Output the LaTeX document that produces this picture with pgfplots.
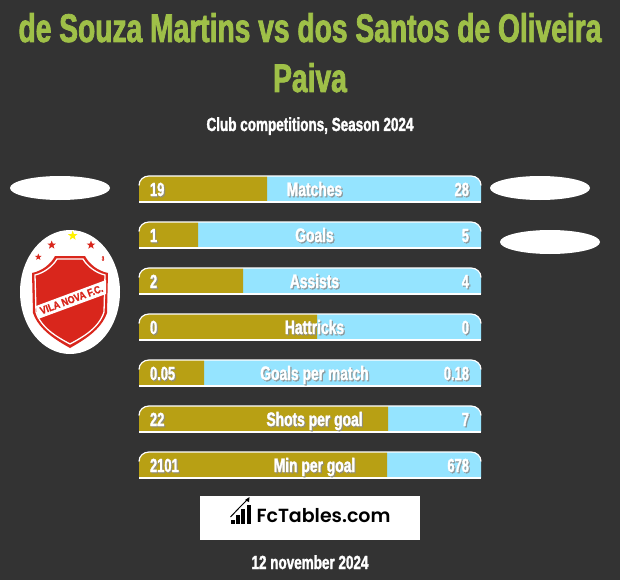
\documentclass[border=0pt]{standalone}
\usepackage{pgfplots}
\pgfplotsset{compat=1.18}
\usepackage{pgfplotstable}
\usetikzlibrary{shapes.geometric}
\usepackage{fontspec}
\setmainfont{Liberation Sans}
\newfontfamily\cond[FakeStretch=0.71,FakeBold=1.6]{Liberation Sans Bold}
\newfontfamily\condt[FakeStretch=0.705,FakeBold=1.8]{Liberation Sans Bold}
\newfontfamily\condn[FakeStretch=0.68,FakeBold=1.5]{Liberation Sans Bold}
\newfontfamily\badgef[FakeStretch=0.85,FakeBold=1.2]{Liberation Sans Bold}
\newfontfamily\logof{Poppins SemiBold}
\definecolor{bg}{HTML}{333333}
\definecolor{titlec}{HTML}{9FC048}
\definecolor{goldc}{HTML}{B8A014}
\definecolor{bluec}{HTML}{95E4FF}
\definecolor{redc}{HTML}{D9261C}
% row centre (px), left value, right value, end of the left part (px from the bar start)
\pgfplotstableread{
y left right goldend
189 19 28 128
235 1 5 59
281 2 4 104
327 0 0 178
373 0.05 0.18 65
419 22 7 249
465 2101 678 248
}\bars
\newcommand{\rowdeco}[4]{% y centre, left, label, right
 \fill[bg] (axis cs:-1,#1-13.5) -- (axis cs:10,#1-13.5) .. controls (axis cs:4.5,#1-13.5) and (axis cs:0,#1-9) .. (axis cs:0,#1-3.5) -- (axis cs:-1,#1-3.5) -- cycle;
 \fill[bg] (axis cs:343,#1-13.5) -- (axis cs:332,#1-13.5) .. controls (axis cs:337.5,#1-13.5) and (axis cs:342,#1-9) .. (axis cs:342,#1-3.5) -- (axis cs:343,#1-3.5) -- cycle;
 \draw[white,line width=1.2pt] (axis cs:0,#1-3.5) .. controls (axis cs:0,#1-9) and (axis cs:4.5,#1-13) .. (axis cs:10,#1-13) -- (axis cs:332,#1-13) .. controls (axis cs:337.5,#1-13) and (axis cs:342,#1-9) .. (axis cs:342,#1-3.5);
 \draw[white,line width=1.2pt] (axis cs:0,#1+13) -- (axis cs:342,#1+13);
 \node[text=black!45,opacity=.8,font=\condn\fontsize{19}{19}\selectfont,anchor=base west] at (axis cs:12.2,#1+8.2) {#2};
 \node[text=white,font=\condn\fontsize{19}{19}\selectfont,anchor=base west] at (axis cs:11,#1+7) {#2};
 \node[text=black!45,opacity=.8,font=\condn\fontsize{19}{19}\selectfont,anchor=base east] at (axis cs:331.2,#1+8.2) {#4};
 \node[text=white,font=\condn\fontsize{19}{19}\selectfont,anchor=base east] at (axis cs:330,#1+7) {#4};
 \node[text=black!45,opacity=.8,font=\cond\fontsize{19.5}{19.5}\selectfont,anchor=base] at (axis cs:176.7,#1+8.2) {#3};
 \node[text=white,font=\cond\fontsize{19.5}{19.5}\selectfont,anchor=base] at (axis cs:175.5,#1+7) {#3};}
\begin{document}
\begin{tikzpicture}
\begin{axis}[
  hide axis, scale only axis, width=620pt, height=580pt,
  xmin=-139, xmax=481, ymin=0, ymax=580, y dir=reverse,
  xbar, bar shift=0pt, bar width=26pt,
  clip=true,
  axis background/.style={fill=bg},
  /tikz/inner sep=0pt, /tikz/outer sep=0pt,
]
\addplot[draw=none,fill=bluec] coordinates {(342,189)(342,235)(342,281)(342,327)(342,373)(342,419)(342,465)};
\addplot[draw=none,fill=goldc] table[x=goldend,y=y] {\bars};

\rowdeco{189}{19}{Matches}{28}
\rowdeco{235}{1}{Goals}{5}
\rowdeco{281}{2}{Assists}{4}
\rowdeco{327}{0}{Hattricks}{0}
\rowdeco{373}{0.05}{Goals per match}{0.18}
\rowdeco{419}{22}{Shots per goal}{7}
\rowdeco{465}{2101}{Min per goal}{678}

% title
\node[text=titlec,anchor=base,font=\condt\fontsize{40}{40}\selectfont] at (axis cs:171,42) {de Souza Martins vs dos Santos de Oliveira};
\node[text=titlec,anchor=base,font=\condt\fontsize{40}{40}\selectfont] at (axis cs:171,92) {Paiva};
\node[text=white,anchor=base,font=\cond\fontsize{19}{19}\selectfont] at (axis cs:171,131) {Club competitions, Season 2024};

% ovals
\fill[white] (axis cs:-79,188) ellipse [x radius=50pt,y radius=12pt];
\fill[white] (axis cs:401,188) ellipse [x radius=50pt,y radius=12pt];
\fill[white] (axis cs:411,242) ellipse [x radius=50pt,y radius=12pt];
\fill[white] (axis cs:-69,292) ellipse [x radius=50pt,y radius=62pt];

% badge
\fill[redc] (axis cs:-107,273) .. controls (axis cs:-97,271) and (axis cs:-88,264) .. (axis cs:-84,256) -- (axis cs:-54,256) .. controls (axis cs:-50,264) and (axis cs:-41,271) .. (axis cs:-31,273) -- (axis cs:-32,313) .. controls (axis cs:-38,330) and (axis cs:-55,340) .. (axis cs:-69,348) .. controls (axis cs:-83,340) and (axis cs:-100,330) .. (axis cs:-106,313) -- cycle;
\draw[white,line width=1.3pt] (axis cs:-104,275) .. controls (axis cs:-95,273) and (axis cs:-86,266) .. (axis cs:-82,259) -- (axis cs:-56,259) .. controls (axis cs:-52,266) and (axis cs:-43,273) .. (axis cs:-34,275) -- (axis cs:-35,312) .. controls (axis cs:-40,328) and (axis cs:-56,337) .. (axis cs:-69,344) .. controls (axis cs:-82,337) and (axis cs:-98,328) .. (axis cs:-103,312) -- cycle;
\fill[white] (axis cs:-103,306) -- (axis cs:-33,280) -- (axis cs:-33,294) -- (axis cs:-101,319) -- cycle;
\node[text=redc,rotate=20.5,font=\badgef\fontsize{10.5}{10.5}\selectfont] at (axis cs:-67.5,299.5) {VILA NOVA F.C.};
\node[star,star points=5,star point ratio=2.4,fill=yellow,minimum size=10pt,inner sep=0pt] at (axis cs:-66.3,235.7) {};
\node[star,star points=5,star point ratio=2.4,fill=redc,minimum size=9pt,inner sep=0pt] at (axis cs:-87.3,245) {};
\node[star,star points=5,star point ratio=2.4,fill=redc,minimum size=9pt,inner sep=0pt] at (axis cs:-48,245) {};
\node[star,star points=5,star point ratio=2.4,fill=redc,minimum size=7pt,inner sep=0pt] at (axis cs:-100.7,257) {};
\node[text=redc,font=\cond\fontsize{6}{6}\selectfont] at (axis cs:-36,258.5) {3};

% FcTables box
\fill[white] (axis cs:61,496) rectangle (axis cs:281,540);
\fill[black] (axis cs:92,520) rectangle (axis cs:95.5,524);
\fill[black] (axis cs:97,515) rectangle (axis cs:100.5,524);
\fill[black] (axis cs:102,509) rectangle (axis cs:105.5,524);
\fill[black] (axis cs:107.5,505) rectangle (axis cs:112,524);
\draw[black,line width=1pt] (axis cs:91.5,517) -- (axis cs:100,508) -- (axis cs:109,499);
\fill[black] (axis cs:110.5,497) -- (axis cs:106,500) -- (axis cs:110,502) -- cycle;
\node[text=black,anchor=west,font=\logof\fontsize{19}{19}\selectfont] at (axis cs:117.5,516) {FcTables.com};

% date
\node[text=white,anchor=base,font=\cond\fontsize{19}{19}\selectfont] at (axis cs:171,569) {12 november 2024};
\end{axis}
\end{tikzpicture}
\end{document}
